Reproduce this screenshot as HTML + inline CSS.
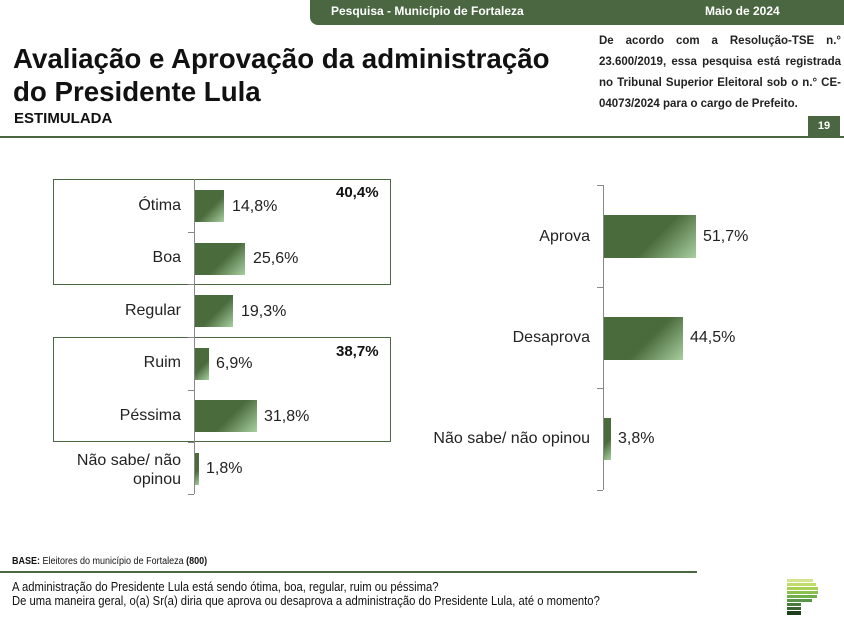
<!DOCTYPE html>
<html><head><meta charset="utf-8"><style>
*{margin:0;padding:0;box-sizing:border-box}
body{width:844px;height:632px;background:#fff;position:relative;overflow:hidden;font-family:"Liberation Sans",sans-serif;color:#111}
.a{position:absolute;white-space:nowrap}
.bar{position:absolute;background:linear-gradient(135deg,#4a6b3c 0%,#4a6b3c 55%,#a8cfa0 100%)}
.lbl{position:absolute;font-size:16px;text-align:right;color:#222}
.val{position:absolute;font-size:16px;color:#222}
.tick{position:absolute;height:1px;width:6px;background:#888}
</style></head><body>
<div class="a" style="left:310px;top:0;width:534px;height:25px;background:#4a6741;border-bottom-left-radius:8px"></div>
<div class="a" style="left:331px;top:4px;color:#fff;font-weight:bold;font-size:12px">Pesquisa - Município de Fortaleza</div>
<div class="a" style="left:705px;top:4px;color:#fff;font-weight:bold;font-size:12px">Maio de 2024</div>
<div class="a" style="left:13px;top:42px;font-size:27.7px;font-weight:bold;line-height:33px">Avaliação e Aprovação da administração<br>do Presidente Lula</div>
<div class="a" style="left:14px;top:110px;font-size:15px;font-weight:bold">ESTIMULADA</div>
<div class="a" style="left:599px;top:31px;width:242px;font-size:11.5px;font-weight:bold;line-height:21px;text-align:justify;text-align-last:left;white-space:normal;color:#222">De acordo com a Resolução-TSE n.° 23.600/2019, essa pesquisa está registrada no Tribunal Superior Eleitoral sob o n.° CE-04073/2024 para o cargo de Prefeito.</div>
<div class="a" style="left:808px;top:116px;width:32px;height:21px;background:#4a6741;color:#fff;font-size:11px;font-weight:bold;text-align:center;line-height:21px">19</div>
<div class="a" style="left:0;top:136px;width:844px;height:2px;background:#4a6741"></div>

<!-- left chart -->
<div class="a" style="left:53px;top:179px;width:338px;height:106px;border:1px solid #4a6741"></div>
<div class="a" style="left:53px;top:337px;width:338px;height:105px;border:1px solid #4a6741"></div>
<div class="a" style="left:194px;top:179px;width:1px;height:315px;background:#888"></div>
<div class="tick" style="left:188px;top:232px"></div>
<div class="tick" style="left:188px;top:284px"></div>
<div class="tick" style="left:188px;top:337px"></div>
<div class="tick" style="left:188px;top:390px"></div>
<div class="tick" style="left:188px;top:442px"></div>
<div class="tick" style="left:188px;top:494px"></div>
<div class="a" style="left:336px;top:184px;font-size:15px;font-weight:bold">40,4%</div>
<div class="a" style="left:336px;top:343px;font-size:15px;font-weight:bold">38,7%</div>

<div class="lbl" style="right:663px;top:197px">Ótima</div>
<div class="bar" style="left:195px;top:190px;width:29px;height:32px"></div>
<div class="val" style="left:232px;top:198px">14,8%</div>
<div class="lbl" style="right:663px;top:249px">Boa</div>
<div class="bar" style="left:195px;top:243px;width:50px;height:32px"></div>
<div class="val" style="left:253px;top:250px">25,6%</div>
<div class="lbl" style="right:663px;top:302px">Regular</div>
<div class="bar" style="left:195px;top:295px;width:38px;height:32px"></div>
<div class="val" style="left:241px;top:303px">19,3%</div>
<div class="lbl" style="right:663px;top:354px">Ruim</div>
<div class="bar" style="left:195px;top:348px;width:14px;height:32px"></div>
<div class="val" style="left:216px;top:355px">6,9%</div>
<div class="lbl" style="right:663px;top:407px">Péssima</div>
<div class="bar" style="left:195px;top:400px;width:62px;height:32px"></div>
<div class="val" style="left:264px;top:408px">31,8%</div>
<div class="lbl" style="right:663px;top:451px;line-height:19px">Não sabe/ não<br>opinou</div>
<div class="bar" style="left:195px;top:453px;width:4px;height:32px"></div>
<div class="val" style="left:206px;top:460px">1,8%</div>

<!-- right chart -->
<div class="a" style="left:603px;top:185px;width:1px;height:305px;background:#888"></div>
<div class="tick" style="left:597px;top:185px"></div>
<div class="tick" style="left:597px;top:287px"></div>
<div class="tick" style="left:597px;top:388px"></div>
<div class="tick" style="left:597px;top:490px"></div>
<div class="lbl" style="right:254px;top:228px">Aprova</div>
<div class="bar" style="left:604px;top:215px;width:92px;height:43px"></div>
<div class="val" style="left:703px;top:228px">51,7%</div>
<div class="lbl" style="right:254px;top:329px">Desaprova</div>
<div class="bar" style="left:604px;top:317px;width:79px;height:43px"></div>
<div class="val" style="left:690px;top:329px">44,5%</div>
<div class="lbl" style="right:254px;top:430px">Não sabe/ não opinou</div>
<div class="bar" style="left:604px;top:418px;width:7px;height:42px"></div>
<div class="val" style="left:618px;top:430px">3,8%</div>

<!-- footer -->
<div class="a" style="left:12px;top:556px;font-size:10px;color:#111;transform:scaleX(0.9);transform-origin:0 0"><b>BASE:</b> Eleitores do município de Fortaleza <b>(800)</b></div>
<div class="a" style="left:0;top:571px;width:697px;height:2px;background:#4a6741"></div>
<div class="a" style="left:12px;top:581px;font-size:12.5px;line-height:13.5px;color:#111;transform:scaleX(0.9);transform-origin:0 0">A administração do Presidente Lula está sendo ótima, boa, regular, ruim ou péssima?<br>De uma maneira geral, o(a) Sr(a) diria que aprova ou desaprova a administração do Presidente Lula, até o momento?</div>

<!-- logo -->
<div class="a" style="left:787px;top:579px;width:26px;height:3px;background:#d4e48a"></div>
<div class="a" style="left:787px;top:583px;width:29px;height:3px;background:#c2dc6a"></div>
<div class="a" style="left:787px;top:587px;width:31px;height:3px;background:#a9d050"></div>
<div class="a" style="left:787px;top:591px;width:31px;height:3px;background:#8cc04c"></div>
<div class="a" style="left:787px;top:595px;width:30px;height:3px;background:#6fae4a"></div>
<div class="a" style="left:787px;top:599px;width:25px;height:3px;background:#5a9448"></div>
<div class="a" style="left:787px;top:603px;width:14px;height:3px;background:#4a7a3e"></div>
<div class="a" style="left:787px;top:607px;width:14px;height:3px;background:#3a6232"></div>
<div class="a" style="left:787px;top:611px;width:14px;height:4px;background:#1e3f1c"></div>
</body></html>
